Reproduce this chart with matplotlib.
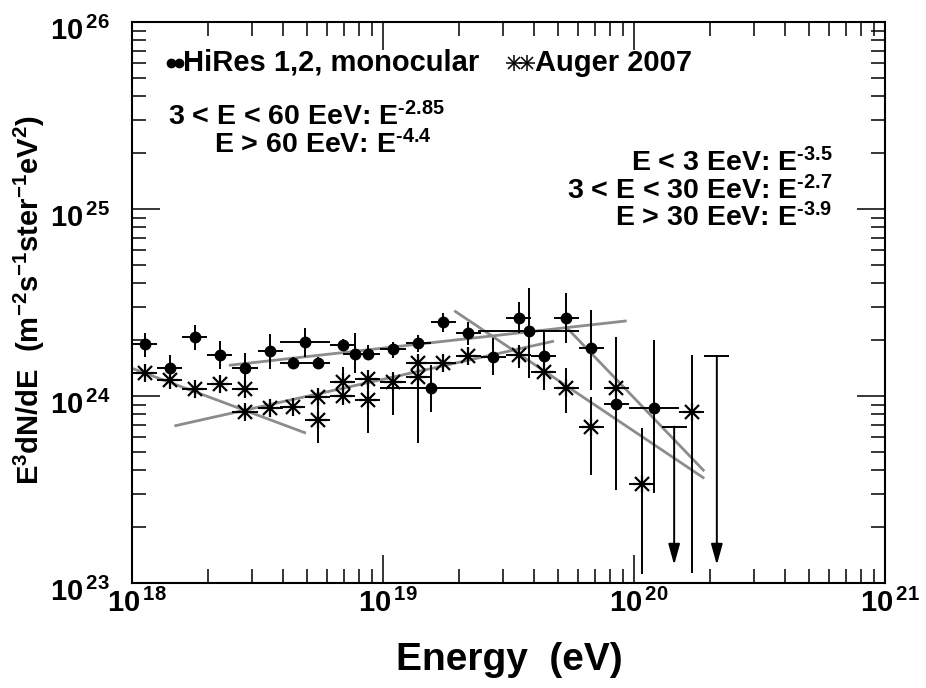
import numpy as np
import matplotlib
matplotlib.use("Agg")
import matplotlib.pyplot as plt
from matplotlib.transforms import ScaledTranslation

plt.rcParams["font.family"] = ["Liberation Sans", "DejaVu Sans"]
plt.rcParams["font.weight"] = "bold"
plt.rcParams["mathtext.fontset"] = "custom"
plt.rcParams["mathtext.rm"] = "Liberation Sans:bold"
plt.rcParams["mathtext.bf"] = "Liberation Sans:bold"
plt.rcParams["mathtext.it"] = "Liberation Sans:bold"
plt.rcParams["mathtext.default"] = "rm"

# HiRes 1,2 monocular: log10(E/eV), E^3 J in 1e24 m^-2 s^-1 sr^-1 eV^2
hires_lgE = [18.05, 18.15, 18.25, 18.35, 18.45, 18.55, 18.64, 18.69, 18.74,
             18.84, 18.89, 18.94, 19.04, 19.14, 19.19, 19.24, 19.34, 19.44,
             19.54, 19.58, 19.64, 19.73, 19.83, 19.93, 20.08]
hires_flux = [1.90, 1.41, 2.07, 1.66, 1.41, 1.74, 1.50, 1.94, 1.50,
              1.88, 1.68, 1.68, 1.78, 1.92, 1.10, 2.49, 2.17, 1.62,
              2.61, 2.23, 1.64, 2.61, 1.81, 0.91, 0.86]
hires_dx = [0.05, 0.05, 0.05, 0.05, 0.05, 0.05, 0.05, 0.10, 0.05,
            0.05, 0.05, 0.05, 0.05, 0.05, 0.20, 0.05, 0.05, 0.05,
            0.05, 0.20, 0.05, 0.05, 0.05, 0.05, 0.10]
# error bars in dex (down, up)
hires_elo = [0.070, 0.064, 0.070, 0.075, 0.155, 0.096, 0.032, 0.080, 0.032,
             0.032, 0.102, 0.032, 0.048, 0.048, 0.128, 0.053, 0.064, 0.096,
             0.080, 0.251, 0.182, 0.134, 0.225, 0.460, 0.455]
hires_ehi = [0.059, 0.070, 0.064, 0.075, 0.080, 0.091, 0.032, 0.075, 0.032,
             0.032, 0.112, 0.048, 0.037, 0.043, 0.123, 0.048, 0.059, 0.102,
             0.086, 0.230, 0.128, 0.134, 0.203, 0.358, 0.364]

# Auger 2007
auger_lgE = [18.05, 18.15, 18.25, 18.35, 18.45, 18.45, 18.55, 18.64, 18.74,
             18.74, 18.84, 18.84, 18.94, 18.94, 19.04, 19.14, 19.14, 19.24,
             19.34, 19.54, 19.64, 19.73, 19.83, 19.93, 20.03, 20.23]
auger_flux = [1.33, 1.22, 1.09, 1.16, 1.09, 0.82, 0.86, 0.87, 0.99,
              0.74, 1.19, 1.00, 1.23, 0.95, 1.19, 1.50, 1.26, 1.50,
              1.64, 1.66, 1.34, 1.10, 0.68, 1.10, 0.34, 0.82]
auger_elo = [0.027, 0.027, 0.027, 0.032, 0.027, 0.027, 0.032, 0.032, 0.037,
             0.123, 0.080, 0.032, 0.059, 0.176, 0.176, 0.037, 0.353, 0.037,
             0.043, 0.070, 0.070, 0.134, 0.257, 0.053, 0.481, 0.861]
auger_ehi = [0.027, 0.027, 0.027, 0.032, 0.027, 0.027, 0.032, 0.032, 0.037,
             0.144, 0.080, 0.032, 0.048, 0.123, 0.053, 0.037, 0.064, 0.037,
             0.043, 0.053, 0.064, 0.107, 0.160, 0.053, 0.299, 0.305]

# upper limits
ul_lgE = [20.16, 20.33]
ul_flux = [0.686, 1.64]
ul_floor = 0.125

# broken power-law fits: start/end log10(E), log10(E^3 J) at start, index
fit_lo = [18.386, 19.728, 18.0, 18.169, 19.284]
fit_hi = [19.971, 20.280, 18.693, 19.681, 20.280]
fit_y0 = [24.164, 24.371, 24.148, 23.840, 24.456]
fit_index = [-2.85, -4.4, -3.5, -2.7, -3.9]

hires_fits = [("3 < E < 60 EeV: E", "-2.85"), ("E > 60 EeV: E", "-4.4")]
auger_fits = [("E < 3 EeV: E", "-3.5"), ("3 < E < 30 EeV: E", "-2.7"),
              ("E > 30 EeV: E", "-3.9")]

x_decades = [18, 19, 20, 21]
y_decades = [23, 24, 25, 26]


def errs(lgE, flux, dx, elo, ehi):
    lgE = np.asarray(lgE)
    x = 10 ** lgE
    y = np.asarray(flux) * 1e24
    xerr = [x - 10 ** (lgE - dx), 10 ** (lgE + dx) - x]
    yerr = [y - y * 10 ** -np.asarray(elo), y * 10 ** np.asarray(ehi) - y]
    return x, y, xerr, yerr


def fit_label(text, expo):
    return text + r"$^{\mathrm{" + expo.replace("-", "\u2010") + "}}$"


fig = plt.figure(figsize=(9.26, 6.88), dpi=100)
ax = fig.add_axes([132 / 926, 1 - 583 / 688, 753 / 926, 561 / 688])
ax.set_xscale("log")
ax.set_yscale("log")
ax.set_xlim(1e18, 1e21)
ax.set_ylim(1e23, 1e26)

for lo, hi, y0, g in zip(fit_lo, fit_hi, fit_y0, fit_index):
    lx = np.array([lo, hi])
    ax.plot(10 ** lx, 10 ** (y0 + (3 + g) * (lx - lo)), color="#8c8c8c",
            lw=2.0, zorder=2, solid_capstyle="butt")

x, y, xerr, yerr = errs(hires_lgE, hires_flux, np.asarray(hires_dx),
                        hires_elo, hires_ehi)
ax.errorbar(x, y, xerr=xerr, yerr=yerr, fmt="o", color="black", ms=7.5,
            elinewidth=1.4, capsize=0, zorder=3)

x, y, xerr, yerr = errs(auger_lgE, auger_flux, 0.05, auger_elo, auger_ehi)
ax.errorbar(x, y, xerr=xerr, yerr=yerr, fmt="none", ecolor="black",
            elinewidth=1.4, capsize=0, zorder=3)
ax.plot(x, y, "+", color="black", ms=13, mew=1.6, zorder=4)
ax.plot(x, y, "x", color="black", ms=9.5, mew=1.6, zorder=4)

for lg, f in zip(ul_lgE, ul_flux):
    e = 10 ** lg
    ax.hlines(f * 1e24, 10 ** (lg - 0.05), 10 ** (lg + 0.05), color="black",
              lw=1.4, zorder=3)
    ax.annotate("", xy=(e, ul_floor * 1e24), xytext=(e, f * 1e24),
                arrowprops=dict(arrowstyle="-|>,head_length=0.9,head_width=0.25",
                                color="black", lw=1.4, shrinkA=0, shrinkB=0,
                                mutation_scale=14), zorder=3)

ax.set_xticks([10.0 ** d for d in x_decades])
ax.set_xticklabels([r"$10^{\,%d}$" % d for d in x_decades])
ax.set_yticks([10.0 ** d for d in y_decades])
ax.set_yticklabels([r"$10^{\,%d}$" % d for d in y_decades])
ax.tick_params(which="both", direction="in", top=True, right=True,
               width=1.1, labelsize=21)
ax.tick_params(which="major", length=20)
ax.tick_params(which="minor", length=10)
ax.tick_params(axis="x", pad=4)
ax.tick_params(axis="y", pad=16)
for s in ax.spines.values():
    s.set_linewidth(1.5)

# nudge tick labels like the original layout
for lab in ax.get_xticklabels():
    lab.set_transform(lab.get_transform() + ScaledTranslation(0.05, 0, fig.dpi_scale_trans))
for lab in ax.get_yticklabels():
    lab.set_transform(lab.get_transform() + ScaledTranslation(0, -0.06, fig.dpi_scale_trans))

# legend
ax.plot([0.052, 0.063], [0.927, 0.927], "o", color="black", ms=6,
        transform=ax.transAxes)
ax.text(0.068, 0.927, "HiRes 1,2, monocular", transform=ax.transAxes,
        fontsize=21, va="center", ha="left")
for xs in (0.507, 0.524):
    ax.plot(xs, 0.927, "+", color="black", ms=11, mew=1.1, transform=ax.transAxes)
    ax.plot(xs, 0.927, "x", color="black", ms=8, mew=1.1, transform=ax.transAxes)
ax.text(0.535, 0.927, "Auger 2007", transform=ax.transAxes,
        fontsize=21, va="center", ha="left")

for (txt, ex), xa, ya in zip(hires_fits, [0.048, 0.109], [0.831, 0.781]):
    ax.text(xa, ya, fit_label(txt, ex), transform=ax.transAxes,
            fontsize=20.5, va="center", ha="left")
for (txt, ex), ya in zip(auger_fits, [0.750, 0.700, 0.651]):
    ax.text(0.930, ya, fit_label(txt, ex), transform=ax.transAxes,
            fontsize=20.5, va="center", ha="right")

fig.text(0.55, 0.041, "Energy  (eV)", fontsize=28, ha="center", va="center")
fig.text(0.032, 0.564, r"$E^{3}dN/dE\ \ (m^{-2}s^{-1}ster^{-1}eV^{2})$",
         fontsize=21, rotation=90, ha="center", va="center")

fig.savefig("out.png", dpi=100)
